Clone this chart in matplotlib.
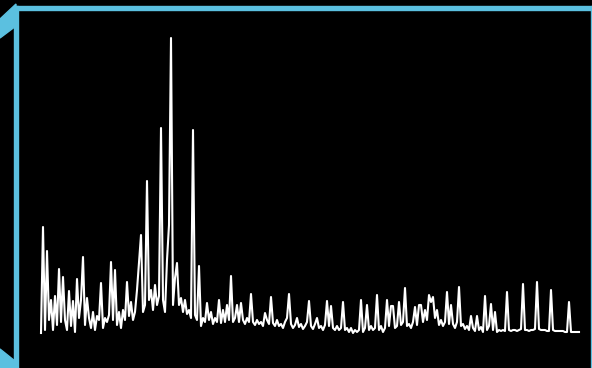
import matplotlib
matplotlib.use('Agg')
import matplotlib.pyplot as plt
from matplotlib.patches import Rectangle, Polygon

# intensity readings, one every channel
intensity = [
    7, 113, 10, 89, 20, 40, 10, 44, 15, 71,
    18, 63, 20, 10, 49, 14, 39, 8, 61, 22,
    40, 83, 15, 42, 22, 12, 28, 10, 24, 20,
    57, 12, 22, 18, 25, 78, 20, 70, 15, 28,
    12, 30, 20, 58, 24, 38, 20, 28, 50, 78,
    105, 28, 35, 159, 40, 50, 30, 55, 35, 44,
    212, 40, 28, 80, 115, 302, 35, 62, 77, 35,
    42, 28, 40, 26, 30, 22, 210, 25, 20, 74,
    14, 22, 18, 37, 20, 28, 16, 22, 18, 40,
    17, 30, 18, 35, 20, 64, 18, 22, 35, 18,
    37, 20, 16, 22, 18, 46, 18, 15, 20, 16,
    18, 14, 27, 20, 16, 43, 17, 14, 20, 14,
    16, 12, 18, 22, 46, 16, 12, 15, 22, 13,
    16, 11, 14, 18, 39, 14, 11, 16, 22, 12,
    14, 10, 15, 39, 14, 34, 12, 10, 14, 10,
    12, 38, 10, 12, 8, 12, 7, 10, 8, 10,
    40, 8, 12, 35, 10, 14, 10, 12, 45, 10,
    14, 8, 12, 40, 14, 34, 34, 12, 14, 38,
    15, 18, 52, 14, 16, 12, 18, 33, 15, 35,
    35, 18, 30, 20, 45, 38, 43, 22, 30, 15,
    20, 14, 18, 48, 16, 35, 16, 12, 18, 53,
    14, 16, 11, 14, 10, 24, 12, 9, 24, 10,
    13, 8, 44, 10, 14, 36, 10, 28, 8, 10,
    9, 10, 9, 48, 10, 9, 10, 10, 9, 10,
    11, 56, 10, 10, 9, 10, 10, 11, 58, 11,
    10, 10, 10, 9, 9, 50, 10, 9, 9, 9,
    9, 9, 8, 8, 38, 8, 8, 8, 8, 8,
]
channel = list(range(len(intensity)))

blue = '#5bc0e0'

fig = plt.figure(figsize=(5.92, 3.68), dpi=100)
fig.patch.set_facecolor('black')
ax = fig.add_axes([0, 0, 1, 1])
ax.set_facecolor('black')
ax.plot(channel, intensity, color='white', lw=1.5)
ax.set_xlim(-20.5, 275.5)
ax.set_ylim(-28, 340)
ax.axis('off')

# frame: top bar, left bar, right hairline, corner wedges
W, H = 592, 368
def fx(x):
    return x / W
def fy(y):
    return 1 - y / H

fig.add_artist(Rectangle((fx(14), fy(10)), fx(592) - fx(14), 4 / H,
                         transform=fig.transFigure, color=blue, zorder=5))
fig.add_artist(Rectangle((fx(14), 0), 4 / W, fy(6),
                         transform=fig.transFigure, color=blue, zorder=5))
fig.add_artist(Rectangle((fx(590.5), 0), 1.5 / W, fy(6),
                         transform=fig.transFigure, color=blue, zorder=5))
fig.add_artist(Polygon([(fx(0), fy(19)), (fx(16), fy(4)), (fx(16), fy(26)), (fx(0), fy(38))],
                       closed=True, transform=fig.transFigure, color=blue, zorder=5))
fig.add_artist(Polygon([(fx(0), fy(349)), (fx(15), fy(361)), (fx(15), fy(368)), (fx(0), fy(368))],
                       closed=True, transform=fig.transFigure, color=blue, zorder=5))

plt.savefig('out.png', dpi=100, facecolor='black')
